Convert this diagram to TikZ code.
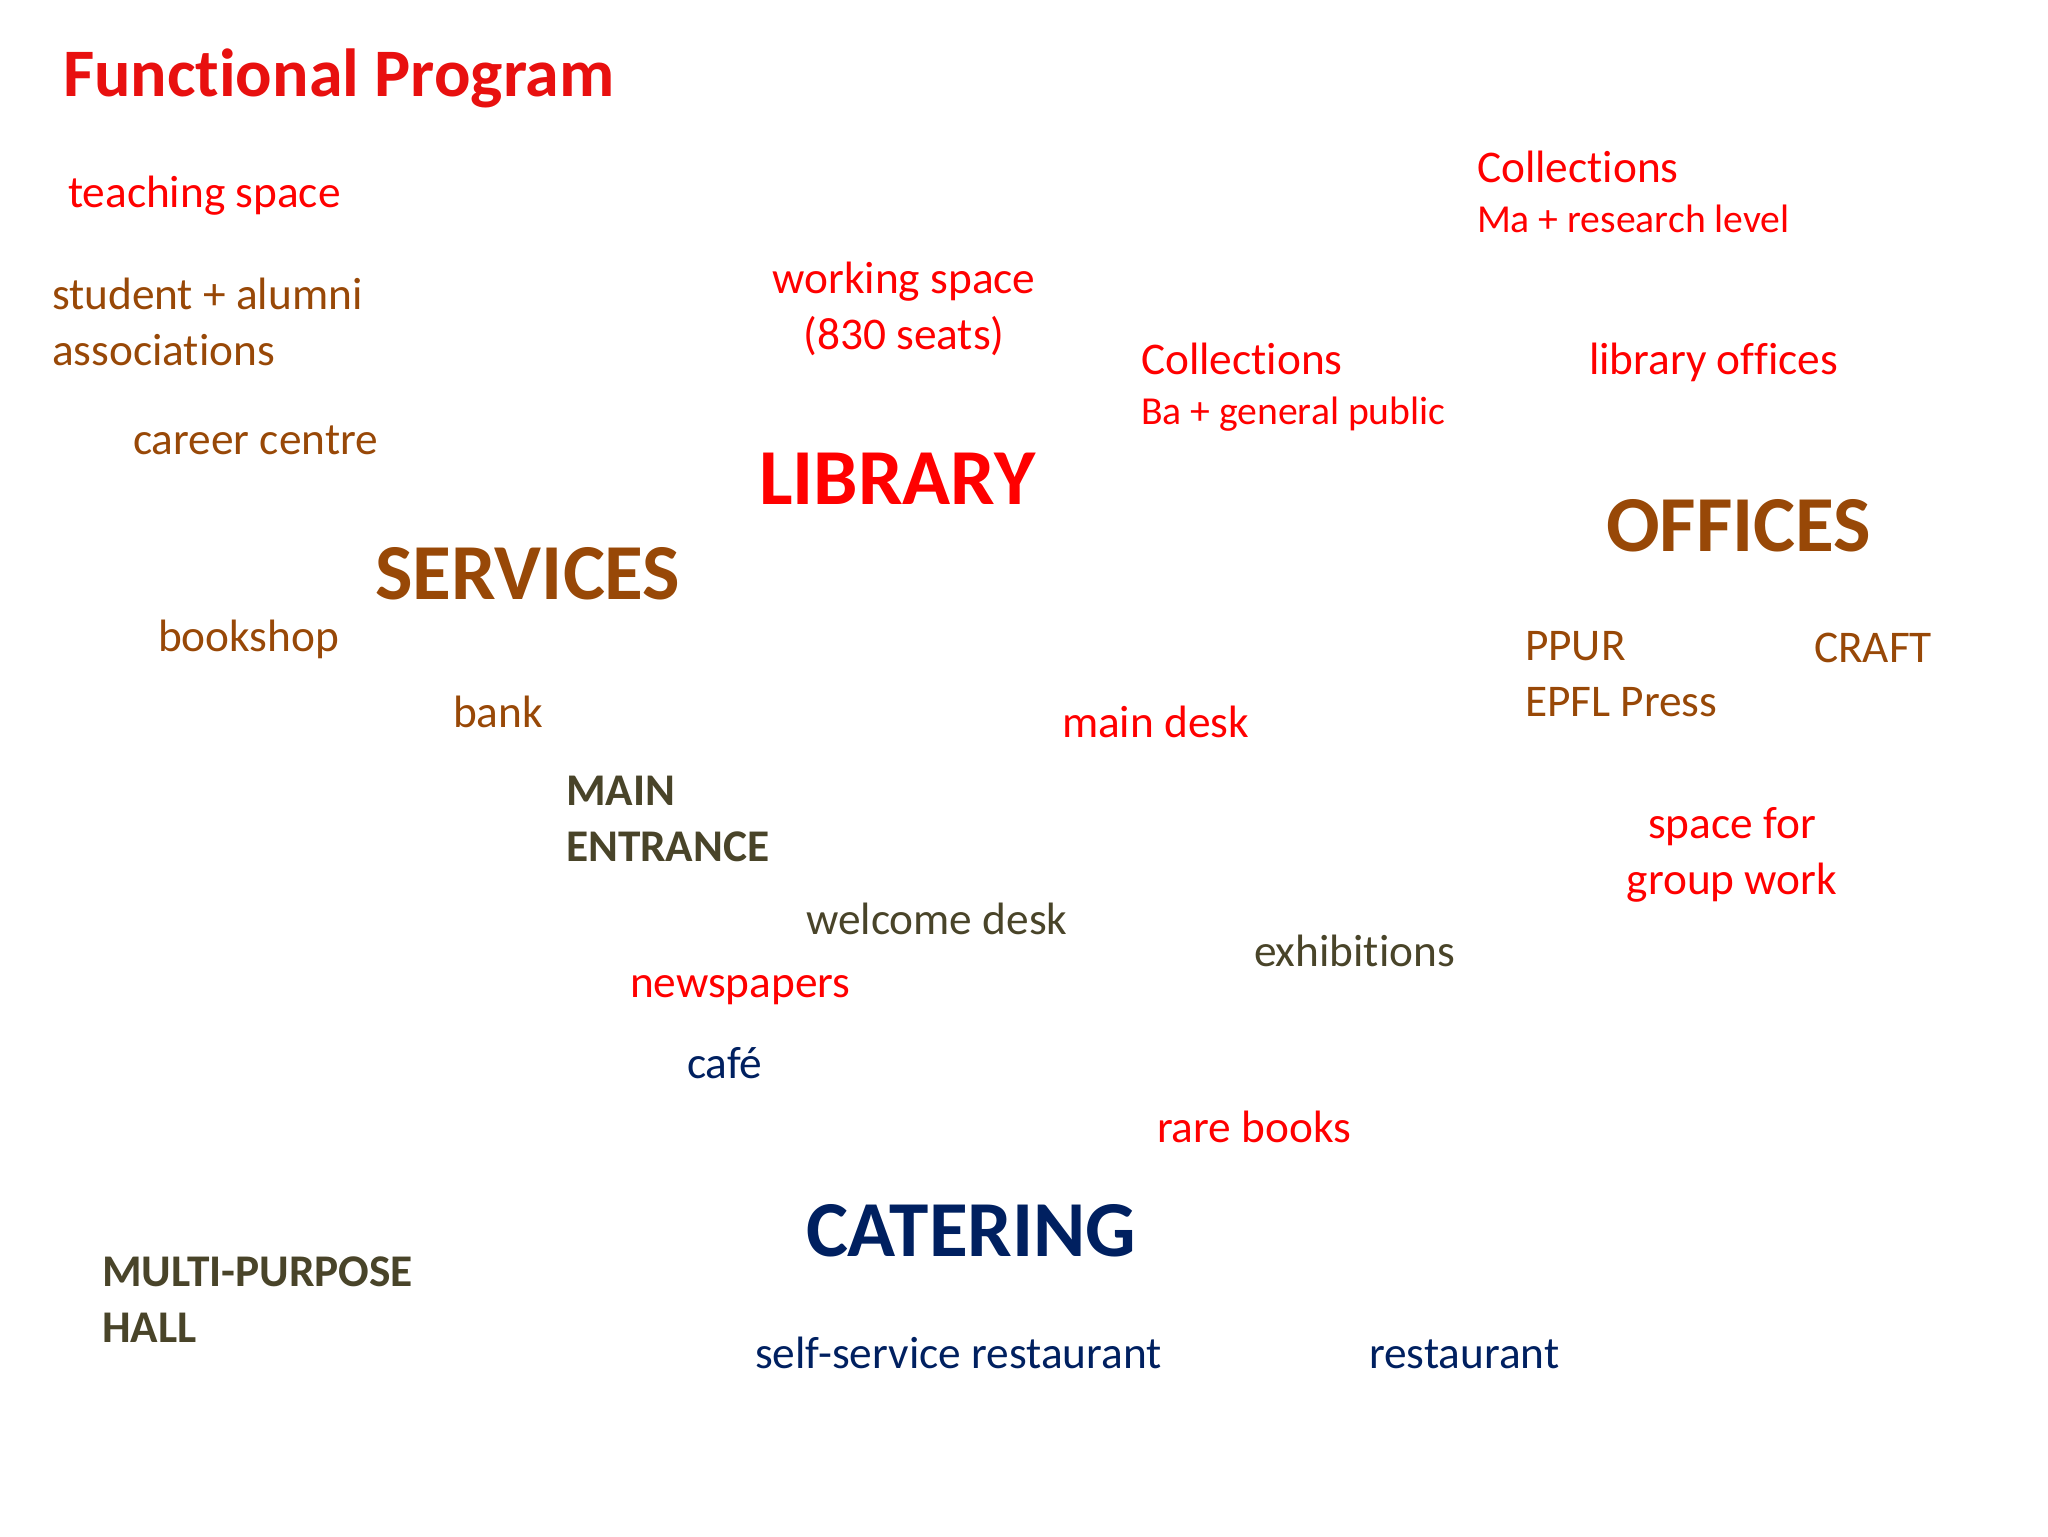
\documentclass[tikz,border=0pt]{standalone}
\usepackage{fontspec}
\setmainfont{Carlito}[Ligatures=NoCommon]
\usepackage{xcolor}
\usepackage{tikz}
\usetikzlibrary{positioning}
\definecolor{progred}{HTML}{FF0000}
\definecolor{titlered}{HTML}{E8100F}
\definecolor{servbrown}{HTML}{984807}
\definecolor{hallolive}{HTML}{494429}
\definecolor{caternavy}{HTML}{002060}
\tikzset{
	every node/.style={inner sep=0pt, outer sep=0pt, anchor=base west},
	item/.style = {
			font            = \fontsize{16}{19.5}\selectfont,
			align           = left,
		},
	subitem/.style = {
			font            = \fontsize{14}{17}\selectfont,
		},
	heading/.style = {
			font            = \fontsize{28}{34}\selectfont\bfseries,
		},
	entry/.style = {
			font            = \fontsize{16}{19.5}\selectfont\bfseries,
			align           = left,
		},
	lib/.style = {text=progred},
	serv/.style = {text=servbrown},
	hall/.style = {text=hallolive},
	cater/.style = {text=caternavy},
}

\begin{document}
\begin{tikzpicture}[x=0.0124cm, y=-0.0124cm]
			\useasboundingbox (0,0) rectangle (2048,1536);

			% title
			\node[text=titlered, font=\fontsize{24}{29}\selectfont\bfseries] (title) at (63, 97) {Functional Program};

			% library (two-line nodes sit on their last line)
			\node[heading, lib] (library) at (759, 504) {LIBRARY};
			\node[item, lib] (teaching) at (68, 207) {teaching space};
			\node[item, lib, align=center, anchor=base] (working) at (904, 349) {working space\\(830 seats)};
			\node[item, lib] (collma) at (1477, 182) {Collections};
			\node[subitem, lib] (malevel) at (1477, 232) {Ma + research level};
			\node[item, lib] (collba) at (1141, 374) {Collections};
			\node[subitem, lib] (balevel) at (1141, 424) {Ba + general public};
			\node[item, lib] (liboffices) at (1589, 374) {library offices};
			\node[item, lib] (maindesk) at (1062, 737) {main desk};
			\node[item, lib, align=center, anchor=base] (groupwork) at (1732, 894) {space for\\group work};
			\node[item, lib] (newspapers) at (630, 997) {newspapers};
			\node[item, lib] (rarebooks) at (1157, 1142) {rare books};

			% services
			\node[heading, serv] (services) at (375, 599) {SERVICES};
			\node[item, serv] (alumni) at (52, 365) {student + alumni\\associations};
			\node[item, serv] (career) at (133, 454) {career centre};
			\node[item, serv] (bookshop) at (158, 651) {bookshop};
			\node[item, serv] (bank) at (453, 727) {bank};

			% offices
			\node[heading, serv] (offices) at (1606, 551) {OFFICES};
			\node[item, serv] (ppur) at (1525, 716) {PPUR\\EPFL Press};
			\node[item, serv] (craft) at (1814, 662) {CRAFT};

			% entrance, hall
			\node[entry, hall] (entrance) at (566, 861) {MAIN\\ENTRANCE};
			\node[item, hall] (welcome) at (806, 934) {welcome desk};
			\node[item, hall] (exhibitions) at (1254, 966) {exhibitions};
			\node[entry, hall] (multihall) at (102, 1342) {MULTI-PURPOSE\\HALL};

			% catering
			\node[heading, cater] (catering) at (806, 1256) {CATERING};
			\node[item, cater] (cafe) at (687, 1078) {café};
			\node[item, cater] (selfservice) at (755, 1368) {self-service restaurant};
			\node[item, cater] (restaurant) at (1369, 1368) {restaurant};
		\end{tikzpicture}
\end{document}
